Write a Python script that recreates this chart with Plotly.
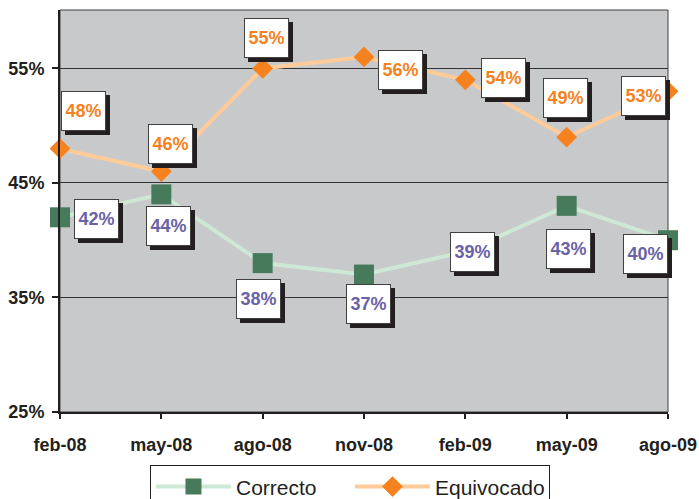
import plotly.graph_objects as go

categories = ["feb-08", "may-08", "ago-08", "nov-08", "feb-09", "may-09", "ago-09"]
correcto = [42, 44, 38, 37, 39, 43, 40]
equivocado = [48, 46, 55, 56, 54, 49, 53]
y_ticks = [25, 35, 45, 55]
y_tick_labels = ["25%", "35%", "45%", "55%"]

# label box offsets (pixels) relative to each point
offs_equiv = [(23.5, -38), (9, -27.5), (3.5, -30), (36.5, 13), (38.5, -2), (-1.5, -39), (-25, 5)]
offs_corr = [(36.5, 1.5), (7.5, 32), (-4.5, 36), (4.5, 29.5), (7.5, 0), (2, 43.5), (-23, 14)]

GREEN_LINE = "#CDE8D5"
GREEN_MARK = "#467A5B"
ORANGE_LINE = "#FFCC99"
ORANGE_MARK = "#F5821F"
PURPLE = "#6A62A6"
BG = "#C8C9CB"
FONT = "Liberation Sans, Arial, sans-serif"

x = list(range(len(categories)))

fig = go.Figure()
fig.add_trace(go.Scatter(
    x=x, y=correcto, name="Correcto", mode="lines+markers",
    line=dict(color=GREEN_LINE, width=4),
    marker=dict(symbol="square", size=20, color=GREEN_MARK),
    cliponaxis=False,
))
fig.add_trace(go.Scatter(
    x=x, y=equivocado, name="Equivocado", mode="lines+markers",
    line=dict(color=ORANGE_LINE, width=4),
    marker=dict(symbol="diamond", size=16, color=ORANGE_MARK),
    cliponaxis=False,
))

annotations = []
def add_labels(values, offs, color):
    for xi, v, (dx, dy) in zip(x, values, offs):
        common = dict(x=xi, y=v, xref="x", yref="y",
                      showarrow=True, arrowcolor="rgba(0,0,0,0)", arrowwidth=0.1,
                      width=43, height=38, borderpad=0, borderwidth=1)
        # drop shadow box (no text)
        annotations.append(dict(common, text="&nbsp;", ax=dx + 4, ay=dy + 4,
                                bgcolor="#231F20", bordercolor="#231F20",
                                font=dict(family=FONT, size=18, color="#231F20")))
        annotations.append(dict(common, text=f"{v}%", ax=dx, ay=dy, bgcolor="white",
                                bordercolor="#404040",
                                font=dict(family=FONT, size=18, color=color, weight="bold")))

add_labels(equivocado, offs_equiv, ORANGE_MARK)
add_labels(correcto, offs_corr, PURPLE)

fig.update_layout(
    width=699, height=499,
    margin=dict(l=60, r=31, t=10, b=87, autoexpand=False),
    paper_bgcolor="white", plot_bgcolor=BG,
    showlegend=True,
    legend=dict(orientation="h", x=0.148, xanchor="left", y=-0.133, yanchor="top",
                bordercolor="#231F20", borderwidth=1, bgcolor="white",
                font=dict(family=FONT, size=21, color="#231F20"),
                itemwidth=75,
                entrywidth=109, entrywidthmode="pixels"),
    annotations=annotations,
    shapes=[dict(type="rect", xref="paper", yref="paper", x0=0, x1=1, y0=0, y1=1,
                 line=dict(color="#404040", width=1), layer="below")],
)
fig.update_xaxes(
    range=[0, 6], tickvals=x, ticktext=categories,
    showgrid=False, zeroline=False, automargin=False,
    showline=True, linecolor="#231F20", linewidth=2,
    ticks="outside", ticklen=5, tickcolor="#231F20", tickwidth=1.5,
    tickfont=dict(family=FONT, size=18, color="#231F20", weight="bold"),
    ticklabelstandoff=10,
)
fig.update_yaxes(
    range=[25, 60.1], tickvals=y_ticks, ticktext=y_tick_labels,
    showgrid=True, gridcolor="#333333", gridwidth=1, zeroline=False, automargin=False,
    showline=True, linecolor="#231F20", linewidth=2,
    ticks="outside", ticklen=6, tickcolor="#231F20", tickwidth=1.5,
    tickfont=dict(family=FONT, size=18, color="#231F20", weight="bold"),
    ticklabelstandoff=4,
)

fig.write_html("out.html", config={"displayModeBar": False},
               post_script="document.body.style.margin='0';")
